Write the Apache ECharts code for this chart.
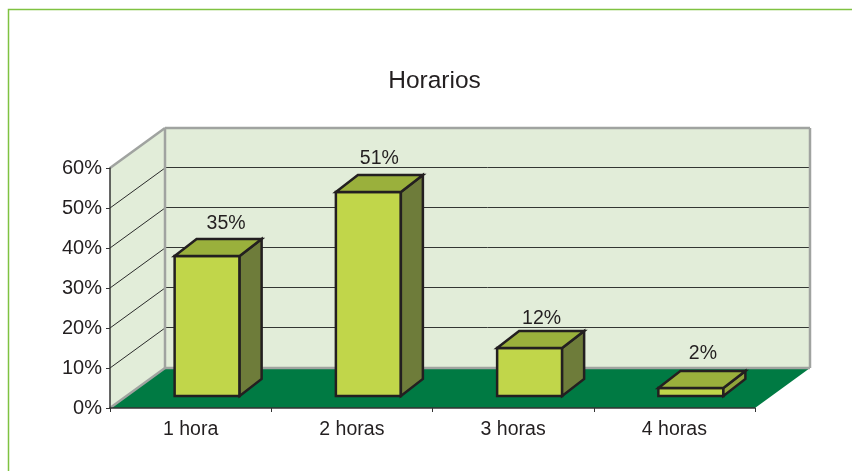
<!DOCTYPE html>
<html lang="en">
<head>
    <meta charset="UTF-8">
    <title>Horarios</title>
    <script src="https://cdn.jsdelivr.net/npm/echarts@6.0.0/dist/echarts.min.js"></script>
    <style>
        html, body { margin: 0; padding: 0; background: #fff; }
    </style>
</head>
<body>
    <div id="main" style="width: 852px; height: 471px;"></div>

    <script>
        // chart data
        var chartTitle = 'Horarios';
        var categories = ['1 hora', '2 horas', '3 horas', '4 horas'];
        var values = [35, 51, 12, 2];
        var yTicks = [0, 10, 20, 30, 40, 50, 60];

        // pseudo 3d look, in pixels
        var wallDx = 55, wallDy = 40;
        var barDx = 16.5, barDy = 12;
        var barWidth = 65, topDx = 22, topDy = 17;
        var labelShift = [[8, 3], [0, 2], [1, 6], [1, 1]];

        var fontName = '"Liberation Sans", Arial, sans-serif';
        var textColor = '#231f20';

        function poly(points, fill, stroke, width) {
            return {
                type: 'polygon',
                shape: { points: points },
                style: { fill: fill, stroke: stroke, lineWidth: width, lineJoin: 'miter' }
            };
        }

        function line(x1, y1, x2, y2, stroke, width) {
            return {
                type: 'line',
                shape: { x1: x1, y1: y1, x2: x2, y2: y2 },
                style: { stroke: stroke, lineWidth: width }
            };
        }

        // walls, floor and gridlines behind the bars
        function renderWalls(params, api) {
            var grid = params.coordSys;
            var left = grid.x, right = grid.x + grid.width;
            var bottom = api.coord([0, 0])[1];
            var top = api.coord([0, yTicks[yTicks.length - 1]])[1];
            var children = [
                poly([[left, bottom], [left + wallDx, bottom - wallDy], [left + wallDx, top - wallDy], [left, top]], '#e2edd9', null, 0),
                poly([[left + wallDx, bottom - wallDy], [right + wallDx, bottom - wallDy], [right + wallDx, top - wallDy], [left + wallDx, top - wallDy]], '#e2edd9', null, 0),
                poly([[left, bottom], [right, bottom], [right + wallDx, bottom - wallDy], [left + wallDx, bottom - wallDy]], '#007a43', null, 0)
            ];
            yTicks.forEach(function (t) {
                var y = api.coord([0, t])[1];
                if (t === 0 || t === yTicks[yTicks.length - 1]) {
                    return;
                }
                children.push(line(left, y, left + wallDx, y - wallDy, '#2b2b2b', 1));
                // half pixel so the line stays one pixel thick
                children.push(line(left + wallDx, y - wallDy - 0.5, right + wallDx, y - wallDy - 0.5, '#333633', 1));
            });
            // grey outline of the walls
            children.push(line(left, bottom, left + wallDx, bottom - wallDy, '#a0a3a0', 2.5));
            children.push(line(left + wallDx, bottom - wallDy, right + wallDx, bottom - wallDy, '#a0a3a0', 2.5));
            children.push(line(left, top, left + wallDx, top - wallDy, '#a0a3a0', 2.5));
            children.push(line(left + wallDx, top - wallDy, right + wallDx, top - wallDy, '#a0a3a0', 2.5));
            children.push(line(left + wallDx, top - wallDy, left + wallDx, bottom - wallDy, '#a0a3a0', 2.5));
            children.push(line(right + wallDx, top - wallDy, right + wallDx, bottom - wallDy, '#a0a3a0', 2.5));
            return { type: 'group', children: children };
        }

        function renderBar(params, api) {
            var i = api.value(0);
            var tip = api.coord([i, api.value(1)]);
            var base = api.coord([i, 0]);
            var x0 = tip[0] + barDx - barWidth / 2;
            var x1 = x0 + barWidth;
            var yTop = tip[1] - barDy;
            var yBase = base[1] - barDy;
            var edge = '#231f20';
            var shift = labelShift[params.dataIndex];
            return {
                type: 'group',
                children: [
                    poly([[x0, yBase], [x1, yBase], [x1, yTop], [x0, yTop]], '#c1d64a', edge, 2.5),
                    poly([[x1, yBase], [x1 + topDx, yBase - topDy], [x1 + topDx, yTop - topDy], [x1, yTop]], api.value(1) < 5 ? '#8fa53a' : '#6e7c3a', edge, 2.5),
                    poly([[x0, yTop], [x1, yTop], [x1 + topDx, yTop - topDy], [x0 + topDx, yTop - topDy]], '#9ab03c', edge, 2.5),
                    {
                        type: 'text',
                        style: {
                            text: api.value(1) + '%',
                            x: (x0 + x1 + topDx) / 2 + shift[0],
                            y: yTop - topDy - 18 + shift[1],
                            align: 'center',
                            verticalAlign: 'middle',
                            fill: textColor,
                            font: '19.5px ' + fontName
                        }
                    }
                ]
            };
        }

        var chart = echarts.init(document.getElementById('main'));

        chart.setOption({
            animation: false,
            backgroundColor: '#fff',
            title: {
                text: chartTitle,
                left: 429.5,
                top: 64,
                textAlign: 'center',
                textStyle: { color: textColor, fontSize: 24.5, fontWeight: 'normal', fontFamily: fontName }
            },
            grid: { left: 110, right: 97, top: 168, bottom: 63, containLabel: false },
            xAxis: {
                type: 'category',
                data: categories,
                z: 5,
                axisLine: { lineStyle: { color: '#333', width: 1.5 } },
                axisTick: { show: true, length: 4, alignWithLabel: false, lineStyle: { color: '#333', width: 1 } },
                axisLabel: { color: textColor, fontSize: 19.5, fontFamily: fontName, margin: 12 },
                splitLine: { show: false }
            },
            yAxis: {
                type: 'value',
                min: 0,
                max: 60,
                interval: 10,
                z: 5,
                axisLine: { show: true, lineStyle: { color: '#333', width: 1.5 } },
                axisTick: { show: true, length: 4, lineStyle: { color: '#333', width: 1 } },
                axisLabel: { color: textColor, fontSize: 20, fontFamily: fontName, margin: 8, padding: [5, 0, 0, 0], formatter: '{value}%' },
                splitLine: { show: false }
            },
            series: [
                {
                    type: 'custom',
                    coordinateSystem: 'cartesian2d',
                    renderItem: renderWalls,
                    clip: false,
                    silent: true,
                    z: 1,
                    data: [[0, 0]]
                },
                {
                    type: 'custom',
                    coordinateSystem: 'cartesian2d',
                    renderItem: renderBar,
                    clip: false,
                    z: 3,
                    data: values.map(function (v, i) { return [i, v]; })
                }
            ],
            graphic: [
                {
                    type: 'polyline',
                    shape: { points: [[8.5, 471], [8.5, 9.5], [852, 9.5]] },
                    style: { stroke: '#7fc241', lineWidth: 1.5, fill: null }
                }
            ]
        });
    </script>
</body>
</html>
